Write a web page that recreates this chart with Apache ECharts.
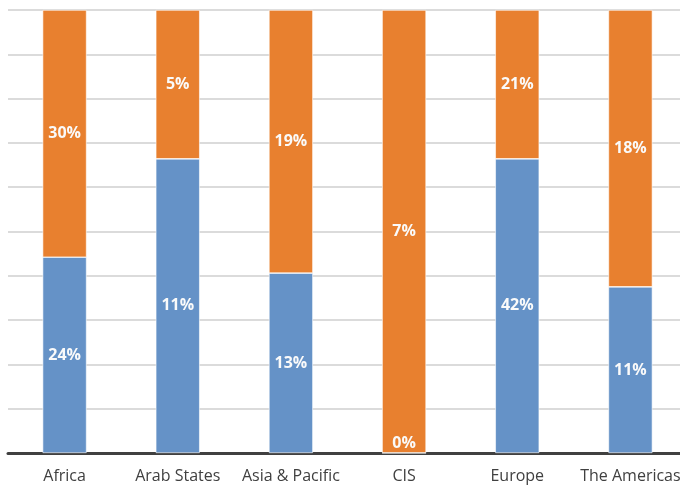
<!DOCTYPE html>
<html>
<head>
<meta charset="utf-8">
<script src="https://cdn.jsdelivr.net/npm/echarts@6/dist/echarts.min.js"></script>
<style>html,body{margin:0;padding:0;background:#fff}#c{width:680px;height:485px}</style>
</head>
<body>
<div id="c"></div>
<script>
var categories = ['Africa', 'Arab States', 'Asia & Pacific', 'CIS', 'Europe', 'The Americas'];
// label values (as printed on the bars)
var blueLabels = [24, 11, 13, 0, 42, 11];
var orangeLabels = [30, 5, 19, 7, 21, 18];
// bar heights, share of column in %
var blueShare = [44.2, 66.4, 40.6, 0, 66.4, 37.5];
var orangeShare = [55.8, 33.6, 59.4, 100, 33.6, 62.5];

var blueData = blueShare.map(function (v, i) {
  var item = { value: v, raw: blueLabels[i] };
  if (v === 0) item.label = { position: 'insideBottom', distance: 2 };
  return item;
});
var orangeData = orangeShare.map(function (v, i) {
  return { value: v, raw: orangeLabels[i] };
});

var labelStyle = {
  show: true, position: 'inside', color: '#fafafa', fontWeight: 'bold',
  fontSize: 16, fontFamily: 'Open Sans, sans-serif',
  formatter: function (p) { return p.data.raw + '%'; }
};

var chart = echarts.init(document.getElementById('c'));
chart.setOption({
  animation: false,
  grid: { left: 8, width: 679, top: 10, bottom: 32, containLabel: false, outerBoundsMode: 'none' },
  xAxis: {
    type: 'category', data: categories,
    axisLine: { lineStyle: { color: '#404040', width: 3 } },
    axisTick: { show: false },
    axisLabel: { color: '#404040', fontSize: 16, fontFamily: 'Open Sans, sans-serif', margin: 15, interval: 0 }
  },
  yAxis: {
    type: 'value', min: 0, max: 100, interval: 10,
    axisLabel: { show: false }, axisLine: { show: false }, axisTick: { show: false },
    splitLine: { lineStyle: { color: '#cfcfcf', width: 1.5 } }
  },
  series: [
    { type: 'bar', stack: 's', data: blueData, barWidth: 44, z: 3,
      itemStyle: { color: '#6592c7', borderColor: '#ffffff', borderWidth: 0.6 }, label: labelStyle },
    { type: 'bar', stack: 's', data: orangeData, barWidth: 44,
      itemStyle: { color: '#e8802f', borderColor: '#ffffff', borderWidth: 0.6 }, label: labelStyle }
  ]
});
</script>
</body>
</html>
